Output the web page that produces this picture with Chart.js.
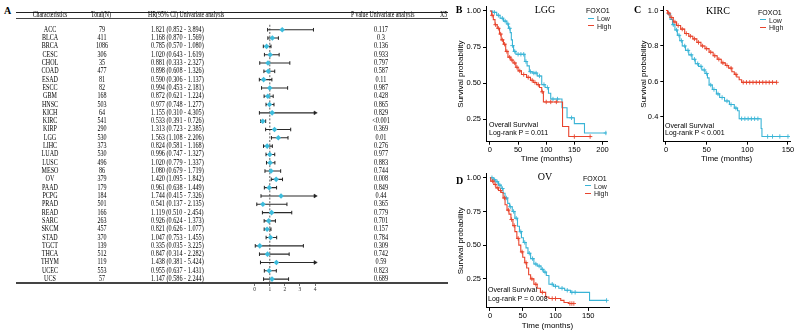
<!DOCTYPE html>
<html>
<head>
<meta charset="utf-8">
<script src="https://cdn.jsdelivr.net/npm/chart.js@4.4.0/dist/chart.umd.min.js"></script>
<style>
  body { margin: 0; background: #fff; width: 800px; height: 333px; position: relative; overflow: hidden;
         font-family: "Liberation Sans", Arial, sans-serif; color: #000; }
  canvas { position: absolute; }
  .t { position: absolute; white-space: nowrap; line-height: 1; }
  .rule { position: absolute; background: #222; }
</style>
</head>
<body>
<canvas id="forest" width="110" height="281" style="left:230px;top:12px"></canvas>
<canvas id="lgg" width="159" height="164" style="left:456px;top:0px"></canvas>
<canvas id="kirc" width="161" height="164" style="left:639px;top:0px"></canvas>
<canvas id="ov" width="159" height="164" style="left:456px;top:167px"></canvas>
<script>
// ---------------- Panel A: univariate Cox table ----------------
const cancers = ['ACC','BLCA','BRCA','CESC','CHOL','COAD','ESAD','ESCC','GBM','HNSC','KICH','KIRC','KIRP','LGG','LIHC','LUAD','LUSC','MESO','OV','PAAD','PCPG','PRAD','READ','SARC','SKCM','STAD','TGCT','THCA','THYM','UCEC','UCS'];
const totals = [79,411,1086,306,35,477,81,82,168,503,64,541,290,530,373,530,496,86,379,179,184,501,166,263,457,370,139,512,119,553,57];
const hr = [1.821,1.168,0.785,1.020,0.881,0.898,0.590,0.994,0.872,0.977,1.155,0.533,1.313,1.563,0.824,0.996,1.020,1.080,1.420,0.961,1.744,0.541,1.119,0.926,0.821,1.047,0.335,0.847,1.438,0.955,1.147];
const ciLow = [0.852,0.870,0.570,0.643,0.333,0.608,0.306,0.453,0.621,0.748,0.310,0.391,0.723,1.108,0.581,0.747,0.779,0.679,1.095,0.638,0.415,0.137,0.510,0.624,0.626,0.753,0.035,0.314,0.381,0.637,0.586];
const ciHigh = [3.894,1.569,1.080,1.619,2.327,1.326,1.137,2.181,1.224,1.277,4.305,0.726,2.385,2.206,1.168,1.327,1.337,1.719,1.842,1.449,7.326,2.135,2.454,1.373,1.077,1.455,3.225,2.282,5.424,1.431,2.244];
const pValues = ['0.117','0.3','0.136','0.933','0.797','0.587','0.11','0.987','0.428','0.865','0.829','<0.001','0.369','0.01','0.276','0.977','0.883','0.744','0.008','0.849','0.44','0.365','0.779','0.701','0.157','0.784','0.309','0.742','0.59','0.823','0.689'];
const forestTicks = [0, 1, 2, 3, 4];
const forestCap = 4;

// ---------------- Panels B-D: Kaplan-Meier curves ----------------
const lggLowTime = [0,5,12,18,24,30,33,36,38,40,42,46,62,66,70,75,84,92,98,104,108,128,137,150,168,206];
const lggLowSurv = [1.0,0.99,0.97,0.95,0.93,0.91,0.88,0.85,0.80,0.76,0.72,0.70,0.65,0.62,0.58,0.57,0.55,0.49,0.47,0.43,0.39,0.33,0.26,0.22,0.155,0.155];
const lggLowCensor = [8,15,22,27,32,35,40,44,50,55,60,64,72,78,82,88,96,102,112,120,145,206];
const lggHighTime = [0,3,6,9,13,17,20,24,28,32,37,41,46,50,56,65,72,77,83,88,92,95,129,140,180];
const lggHighSurv = [1.0,0.97,0.94,0.905,0.88,0.84,0.80,0.77,0.72,0.68,0.66,0.64,0.61,0.585,0.56,0.54,0.52,0.505,0.49,0.47,0.44,0.37,0.20,0.13,0.13];
const lggHighCensor = [4,10,15,19,22,26,30,35,39,44,48,53,60,68,75,80,86,93,100,108,118,150,178];

const kircLowTime = [0,2,5,8,11,14,17,20,24,28,32,36,40,44,48,51,53,57,62,66,72,78,84,88,90,117,118,150];
const kircLowSurv = [1.0,0.98,0.95,0.92,0.89,0.86,0.83,0.80,0.775,0.75,0.725,0.70,0.685,0.665,0.645,0.62,0.58,0.555,0.53,0.51,0.49,0.47,0.45,0.435,0.39,0.335,0.29,0.29];
const kircLowCensor = [4,9,13,16,19,23,27,31,35,39,43,47,50,55,59,64,69,75,80,86,93,97,101,105,109,113,125,131,140,150];
const kircHighTime = [0,2,5,9,13,18,23,28,33,38,43,48,53,58,63,68,73,77,81,84,87,90,93,136];
const kircHighSurv = [1.0,0.985,0.96,0.935,0.915,0.895,0.87,0.855,0.84,0.82,0.80,0.785,0.765,0.745,0.725,0.705,0.69,0.675,0.655,0.64,0.625,0.61,0.595,0.595];
const kircHighCensor = [3,7,11,15,20,25,30,35,40,45,50,55,60,65,70,75,80,86,95,99,103,107,111,115,119,123,127,131,136];

const ovLowTime = [0,5,9,13,17,20,23,27,30,34,38,42,45,48,51,55,58,62,67,72,78,82,86,90,97,105,114,123,152,178];
const ovLowSurv = [1.0,0.985,0.97,0.945,0.92,0.885,0.85,0.81,0.785,0.75,0.70,0.64,0.60,0.555,0.52,0.48,0.44,0.40,0.36,0.345,0.32,0.30,0.275,0.21,0.195,0.18,0.165,0.15,0.09,0.09];
const ovLowCensor = [3,7,11,15,19,25,31,36,40,47,53,60,65,70,75,80,84,95,100,110,118,125,130,178];
const ovHighTime = [0,1,6,9,13,17,20,23,26,29,32,35,38,41,44,47,50,53,56,59,62,67,72,77,85,90,108,113,120,128];
const ovHighSurv = [1.0,0.975,0.95,0.925,0.905,0.89,0.85,0.80,0.76,0.73,0.69,0.645,0.60,0.55,0.50,0.45,0.41,0.37,0.33,0.28,0.25,0.21,0.18,0.15,0.115,0.104,0.09,0.075,0.067,0.067];
const ovHighCensor = [4,8,12,16,22,28,33,37,43,49,55,64,70,80,95,100,122,125,128];

const BLUE = '#3ab4d6';
const RED = '#e8442d';
const SANS = '"Liberation Sans", Arial, sans-serif';
const SERIF = '"Liberation Serif", "Times New Roman", serif';

// small helper for positioned text
function addText(str, x, y, o = {}) {
    const d = document.createElement('div');
    d.className = 't';
    d.textContent = str;
    d.style.left = x + 'px';
    d.style.top = y + 'px';
    d.style.fontSize = (o.size || 7) + 'px';
    d.style.fontFamily = o.serif ? SERIF : SANS;
    if (o.bold) d.style.fontWeight = 'bold';
    if (o.color) d.style.color = o.color;
    const align = o.align || 'left';
    const tx = align === 'center' ? -50 : align === 'right' ? -100 : 0;
    d.style.transformOrigin = (align === 'center' ? '50%' : align === 'right' ? '100%' : '0%') + ' 50%';
    d.style.transform = `translate(${tx}%, -50%) scaleX(${o.sx || 1})`;
    document.body.appendChild(d);
}
function addRule(x, y, w, h, color) {
    const d = document.createElement('div');
    d.className = 'rule';
    Object.assign(d.style, { left: x + 'px', top: y + 'px', width: w + 'px', height: h + 'px' });
    if (color) d.style.background = color;
    document.body.appendChild(d);
}

Chart.defaults.animation = false;
Chart.defaults.font.family = SANS;
Chart.defaults.color = '#000';

// ---- forest plot ----
const ciSegments = [];
const capPoints = [];
const arrowPoints = [];
cancers.forEach((c, i) => {
    const top = Math.min(ciHigh[i], forestCap);
    ciSegments.push({ x: ciLow[i], y: i }, { x: top, y: i }, { x: top, y: null });
    capPoints.push({ x: ciLow[i], y: i });
    if (ciHigh[i] > forestCap) arrowPoints.push({ x: forestCap, y: i });
    else capPoints.push({ x: ciHigh[i], y: i });
});

const forest = new Chart(document.getElementById('forest'), {
    type: 'scatter',
    data: {
        datasets: [
            {   // hazard ratio
                data: hr.map((v, i) => ({ x: v, y: i })),
                pointStyle: 'rectRot', pointRadius: 2.8, backgroundColor: '#3dbcdc', borderWidth: 0
            },
            {
                data: capPoints, pointStyle: 'line', rotation: 90, pointRadius: 1.8,
                borderColor: '#222', borderWidth: 1
            },
            {
                data: arrowPoints, pointStyle: 'triangle', rotation: 90, pointRadius: 2.2,
                backgroundColor: '#222', borderColor: '#222', borderWidth: 0.5
            },
            {
                data: ciSegments, showLine: true, spanGaps: false, pointRadius: 0,
                borderColor: '#2a2a2a', borderWidth: 1.1
            },
            {   // reference line at HR = 1
                data: [{ x: 1, y: -0.6 }, { x: 1, y: 30.47 }], showLine: true, pointRadius: 0,
                borderColor: '#333', borderWidth: 0.8, borderDash: [2, 1.6]
            }
        ]
    },
    options: {
        responsive: false,
        devicePixelRatio: 1,
        layout: { padding: 0 },
        plugins: { legend: { display: false }, tooltip: { enabled: false } },
        scales: {
            x: {
                type: 'linear', min: -1.307, max: 5.32,
                afterFit: s => { s.height = 10; },
                afterBuildTicks: s => { s.ticks = forestTicks.map(v => ({ value: v })); },
                grid: { drawOnChartArea: false, drawTicks: true, tickLength: 3, color: '#333', lineWidth: 0.7 },
                border: { display: false },
                ticks: { font: { size: 5.5, family: SERIF }, color: '#333', padding: 0, maxRotation: 0, autoSkip: false }
            },
            y: { type: 'linear', reverse: true, min: -1.535, max: 30.47, display: false }
        }
    }
});

// table text, rows aligned with the forest's y scale
const forestTop = 12;
const rowY = i => forestTop + forest.scales.y.getPixelForValue(i);
addText('A', 7.5, 10.5, { serif: true, bold: true, size: 10, align: 'center' });
addRule(16, 11.5, 432, 1.4);
addRule(16, 18.3, 432, 0.7, '#444');
addRule(16, 281.8, 432, 1.8, '#444');
addText('Characteristics', 50, 15.4, { serif: true, size: 7.3, align: 'center', sx: 0.8 });
addText('Total(N)', 101, 15.4, { serif: true, size: 7.3, align: 'center', sx: 0.8 });
addText('HR(95% CI) Univariate analysis', 147.5, 15.4, { serif: true, size: 7.3, sx: 0.8 });
addText('P value Univariate analysis', 351, 15.4, { serif: true, size: 7.3, sx: 0.8 });
addText('X5', 440, 15.4, { serif: true, size: 7.3, sx: 0.8 });
cancers.forEach((c, i) => {
    const y = rowY(i);
    addText(c, 50, y, { serif: true, size: 7.4, align: 'center', sx: 0.82 });
    addText(String(totals[i]), 101.5, y, { serif: true, size: 7.4, align: 'center', sx: 0.82 });
    addText(`${hr[i].toFixed(3)} (${ciLow[i].toFixed(3)} - ${ciHigh[i].toFixed(3)})`, 151, y, { serif: true, size: 7.4, sx: 0.84 });
    addText(pValues[i], 381, y, { serif: true, size: 7.4, align: 'center', sx: 0.85 });
});

// ---- Kaplan-Meier panels ----
function survAt(times, surv, t) {
    let s = surv[0];
    for (let i = 0; i < times.length; i++) {
        if (times[i] <= t) s = surv[i]; else break;
    }
    return s;
}

function kmChart(id, p) {
    const curve = (times, surv) => times.map((t, i) => ({ x: t, y: surv[i] }));
    const marks = (cens, times, surv) => cens.map(t => ({ x: t, y: survAt(times, surv, t) }));
    const lineStyle = color => ({ borderColor: color, borderWidth: 1.1, pointRadius: 0, stepped: true, fill: false });
    const markStyle = color => ({ showLine: false, pointStyle: 'cross', pointRadius: 2.2, borderColor: color, borderWidth: 0.9 });

    return new Chart(document.getElementById(id), {
        type: 'line',
        data: {
            datasets: [
                { data: marks(p.highC, p.highT, p.highS), ...markStyle(RED) },
                { data: curve(p.highT, p.highS), ...lineStyle(RED) },
                { data: marks(p.lowC, p.lowT, p.lowS), ...markStyle(BLUE) },
                { data: curve(p.lowT, p.lowS), ...lineStyle(BLUE) }
            ]
        },
        options: {
            responsive: false,
            devicePixelRatio: 1,
            layout: { padding: p.padding },
            plugins: { legend: { display: false }, tooltip: { enabled: false } },
            scales: {
                x: {
                    type: 'linear', min: p.xMin, max: p.xMax,
                    afterFit: s => { s.height = p.xAxisH; },
                    afterBuildTicks: s => { s.ticks = p.xTicks.map(v => ({ value: v })); },
                    grid: { drawOnChartArea: false, drawTicks: true, tickLength: 3, color: '#000' },
                    border: { display: true, color: '#000', width: 1 },
                    ticks: { font: { size: 7.5 }, color: '#000', padding: 1, maxRotation: 0, autoSkip: false },
                    title: { display: true, text: 'Time (months)', font: { size: 8 }, color: '#000', padding: 0 }
                },
                y: {
                    type: 'linear', min: p.yMin, max: p.yMax,
                    afterFit: s => { s.width = p.yAxisW; },
                    afterBuildTicks: s => { s.ticks = p.yTicks.map(v => ({ value: v })); },
                    grid: { drawOnChartArea: false, drawTicks: true, tickLength: 3, color: '#000' },
                    border: { display: true, color: '#000', width: 1 },
                    ticks: { font: { size: 7.5 }, color: '#000', padding: 2, callback: v => v.toFixed(p.yDigits) },
                    title: { display: true, text: 'Survival probability', font: { size: 8 }, color: '#000', padding: 0 }
                }
            }
        }
    });
}

kmChart('lgg', {
    lowT: lggLowTime, lowS: lggLowSurv, lowC: lggLowCensor,
    highT: lggHighTime, highS: lggHighSurv, highC: lggHighCensor,
    xMin: -7, xMax: 208, xTicks: [0, 50, 100, 150, 200],
    yMin: 0.0945, yMax: 1.031, yTicks: [0.25, 0.5, 0.75, 1.0], yDigits: 2,
    yAxisW: 30, xAxisH: 22.3, padding: { top: 5, right: 8, left: 0, bottom: 0 }
});
kmChart('kirc', {
    lowT: kircLowTime, lowS: kircLowSurv, lowC: kircLowCensor,
    highT: kircHighTime, highS: kircHighSurv, highC: kircHighCensor,
    xMin: -3.3, xMax: 152.5, xTicks: [0, 50, 100, 150],
    yMin: 0.2607, yMax: 1.0223, yTicks: [0.4, 0.6, 0.8, 1.0], yDigits: 1,
    yAxisW: 24.3, xAxisH: 22.3, padding: { top: 5, right: 10, left: 0, bottom: 0 }
});
kmChart('ov', {
    lowT: ovLowTime, lowS: ovLowSurv, lowC: ovLowCensor,
    highT: ovHighTime, highS: ovHighSurv, highC: ovHighCensor,
    xMin: -6.1, xMax: 181.7, xTicks: [0, 50, 100, 150],
    yMin: 0.0345, yMax: 1.0315, yTicks: [0.25, 0.5, 0.75, 1.0], yDigits: 2,
    yAxisW: 30, xAxisH: 23.1, padding: { top: 4.7, right: 6, left: 0, bottom: 0 }
});

// panel letters, titles, legends and annotations
function kmLegend(x, y) {
    addText('FOXO1', x, y, { size: 7 });
    addRule(x + 2, y + 7.6, 6, 1.1, BLUE);
    addText('Low', x + 11, y + 8, { size: 7, color: '#222' });
    addRule(x + 2, y + 15.1, 6, 1.1, RED);
    addText('High', x + 11, y + 15.5, { size: 7, color: '#222' });
}
addText('B', 459, 10, { serif: true, bold: true, size: 10, align: 'center' });
addText('LGG', 545, 10, { serif: true, size: 10, align: 'center' });
kmLegend(586, 10);
addText('Overall Survival', 489, 124.3, { size: 7 });
addText('Log-rank P = 0.011', 489, 132, { size: 7 });

addText('C', 637.5, 9.5, { serif: true, bold: true, size: 10, align: 'center' });
addText('KIRC', 718, 11, { serif: true, size: 10, align: 'center' });
kmLegend(758, 11.7);
addText('Overall Survival', 665, 124.5, { size: 7 });
addText('Log-rank P < 0.001', 665, 132.3, { size: 7 });

addText('D', 459.5, 181, { serif: true, bold: true, size: 10, align: 'center' });
addText('OV', 545, 177, { serif: true, size: 10, align: 'center' });
kmLegend(583, 177.7);
addText('Overall Survival', 488, 289.3, { size: 7 });
addText('Log-rank P = 0.008', 488, 297.7, { size: 7 });
</script>
</body>
</html>
